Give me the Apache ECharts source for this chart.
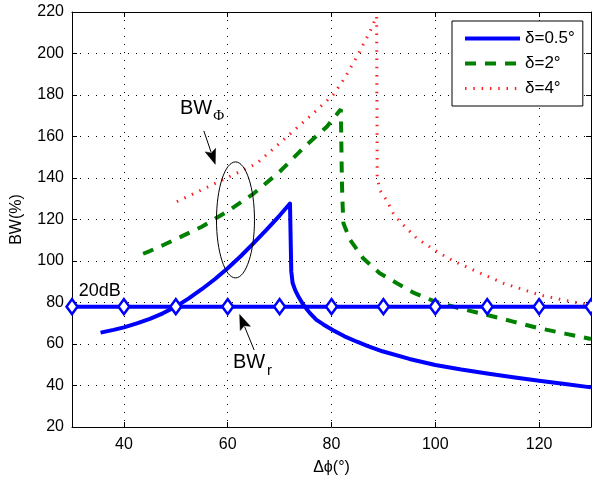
<!DOCTYPE html>
<html><head><meta charset="utf-8">
<script src="https://cdn.jsdelivr.net/npm/echarts@6/dist/echarts.min.js"></script>
<style>html,body{margin:0;padding:0;background:#fff}#c{width:592px;height:478px}</style>
</head><body><div id="c"></div>
<script>
// ---- data ----
const seriesNames = ['δ=0.5°', 'δ=2°', 'δ=4°'];
const blueX = [35.5, 38, 40, 42.5, 45, 47.5, 50, 52.5, 55, 57.5, 60, 62.5, 65, 67.5, 70, 72,
  72.25, 72.5, 73, 73.7, 74.6, 75.8, 77.1, 78.5, 80.3, 82.5, 84.9, 87, 89.8, 95, 100, 105, 110, 115, 120, 125, 130];
const blueY = [65.5, 66.8, 68, 69.9, 72.1, 74.8, 78, 82, 86.4, 91.2, 96.5, 102.3, 108.6, 115.1, 121.9, 127.7,
  95, 89.5, 86, 82.5, 78.8, 75, 71.6, 69.3, 66.6, 63.7, 61.1, 59, 56.5, 52.8, 49.9, 47.7, 45.8, 44, 42.3, 40.7, 39.1];
const greenX = [43.7, 45, 47.6, 50, 55, 60, 65, 70, 72.6, 75, 79.1, 81.8,
  82.0, 82.1, 82.3, 83.6, 86.1, 89.3, 92.6, 96, 100, 105, 110, 115, 120, 125, 130];
const greenY = [103.5, 104.8, 107.7, 110.5, 116.5, 124, 132.5, 143, 149.5, 155.5, 164.7, 173.1,
  139, 129.4, 118.2, 110.1, 101.3, 94.1, 89.3, 84.5, 80.4, 77, 74, 70.8, 67.6, 65, 62.4];
const redX = [50.2, 55, 60, 65.6, 70.7, 76.5, 80.3, 82.5, 84.9, 87.4, 88.7,
  88.8, 89.3, 90.6, 91.9, 93.2, 96.4, 100.3, 103.5, 107.3, 113.1, 120.2, 125, 130];
const redY = [128.6, 134.3, 140.3, 147, 158.3, 171.2, 180, 188, 198.5, 210.5, 218,
  140.6, 134.2, 129.4, 123, 118.9, 111, 104.5, 100, 95.7, 89.3, 83.6, 81, 78.8];
const refX = [30, 40, 50, 60, 70, 80, 90, 100, 110, 120, 130];
const refY = [78, 78, 78, 78, 78, 78, 78, 78, 78, 78, 78];
const xTicks = [40, 60, 80, 100, 120];
const yTicks = [20, 40, 60, 80, 100, 120, 140, 160, 180, 200, 220];
const xRange = [30, 130];
const xTitle = 'Δϕ(°)';
const yTitle = 'BW(%)';

// ---- chart ----
const zip = (xs, ys) => xs.map((x, i) => [x, ys[i]]);
const FONT = '"Liberation Sans", Arial, Helvetica, sans-serif';
const chart = echarts.init(document.getElementById('c'), null, {renderer: 'canvas'});

const gridLine = {show: true, lineStyle: {color: '#000', width: 1, type: [1, 7]}};
const baseAxis = {
  axisLine: {show: true, onZero: false, lineStyle: {color: '#000', width: 1}},
  axisTick: {show: true, inside: true, length: 5, lineStyle: {color: '#000'}},
};
const option = {
  animation: false,
  backgroundColor: '#fff',
  grid: {left: 72, top: 12, width: 519, height: 415, containLabel: false, outerBoundsMode: 'none'},
  xAxis: [
    Object.assign({}, baseAxis, {
      type: 'value', position: 'bottom', min: xRange[0], max: xRange[1],
      name: xTitle, nameLocation: 'middle', nameGap: 33,
      nameTextStyle: {fontFamily: FONT, fontSize: 16, color: '#000'},
      axisTick: {show: true, inside: true, length: 5, lineStyle: {color: '#000'}, customValues: xTicks},
      axisLabel: {fontFamily: FONT, fontSize: 16, color: '#000', margin: 10, customValues: xTicks},
      splitLine: gridLine
    }),
    Object.assign({}, baseAxis, {
      type: 'value', position: 'top', min: xRange[0], max: xRange[1],
      axisTick: {show: true, inside: true, length: 5, lineStyle: {color: '#000'}, customValues: xTicks},
      axisLabel: {show: false}, splitLine: {show: false}
    })
  ],
  yAxis: [
    Object.assign({}, baseAxis, {
      type: 'value', position: 'left', min: yTicks[0], max: yTicks[yTicks.length - 1], interval: yTicks[1] - yTicks[0],
      name: yTitle, nameLocation: 'middle', nameGap: 47,
      nameTextStyle: {fontFamily: FONT, fontSize: 16, color: '#000'},
      axisLabel: {fontFamily: FONT, fontSize: 16, color: '#000', margin: 8},
      splitLine: gridLine
    }),
    Object.assign({}, baseAxis, {
      type: 'value', position: 'right', min: yTicks[0], max: yTicks[yTicks.length - 1], interval: yTicks[1] - yTicks[0],
      axisLabel: {show: false}, splitLine: {show: false}
    })
  ],
  legend: {
    orient: 'vertical', left: 452, top: 21,
    padding: [9, 8, 9, 11], itemGap: 8, itemWidth: 55, itemHeight: 14,
    backgroundColor: '#fff', borderColor: '#000', borderWidth: 1, borderRadius: 0,
    textStyle: {fontFamily: FONT, fontSize: 17, color: '#000'},
    itemStyle: {opacity: 0},
    data: [
      {name: seriesNames[0], lineStyle: {width: 4, opacity: 1}, itemStyle: {opacity: 0}},
      {name: seriesNames[1], lineStyle: {width: 4, opacity: 1}, itemStyle: {opacity: 0}},
      {name: seriesNames[2], lineStyle: {width: 3, opacity: 1}, itemStyle: {opacity: 0}}
    ]
  },
  series: [
    {name: seriesNames[0], type: 'line', data: zip(blueX, blueY), showSymbol: false, symbol: 'none',
     color: '#0000ff', lineStyle: {color: '#0000ff', width: 4, join: 'round'}, z: 3},
    {name: seriesNames[1], type: 'line', data: zip(greenX, greenY), showSymbol: false, symbol: 'none',
     color: '#008000', lineStyle: {color: '#008000', width: 4, type: [11, 9], cap: 'butt'}, z: 3},
    {name: seriesNames[2], type: 'line', data: zip(redX, redY), showSymbol: false, symbol: 'none',
     color: '#ff2020', lineStyle: {color: '#ff2020', width: 3, type: [1.5, 6.8], cap: 'butt'}, z: 3},
    {name: '20dB', type: 'line', data: zip(refX, refY), symbol: 'diamond', symbolSize: [11, 15], showSymbol: true,
     clip: false, color: '#0000ff',
     lineStyle: {color: '#0000ff', width: 4},
     itemStyle: {color: '#fff', borderColor: '#0000ff', borderWidth: 2.5}, z: 4}
  ]
};
chart.setOption(option);

// ---- annotations anchored in data coordinates ----
const px = (x, y) => chart.convertToPixel({xAxisIndex: 0, yAxisIndex: 0}, [x, y]);
function arrow(tail, tip) {
  const a = px(tail[0], tail[1]), b = px(tip[0], tip[1]);
  const dx = b[0] - a[0], dy = b[1] - a[1], L = Math.hypot(dx, dy);
  const ux = dx / L, uy = dy / L, hl = 15, hw = 5.5;
  const bx = b[0] - ux * hl, by = b[1] - uy * hl;
  return [
    {type: 'line', shape: {x1: a[0], y1: a[1], x2: bx + ux * 2, y2: by + uy * 2}, style: {stroke: '#000', lineWidth: 1}, z: 10},
    {type: 'polygon', shape: {points: [[b[0], b[1]], [bx - uy * hw, by + ux * hw], [bx + ux * 3, by + uy * 3], [bx + uy * hw, by - ux * hw]]},
     style: {fill: '#000', stroke: '#000', lineWidth: 0.5}, z: 10}
  ];
}
const e0 = px(61.5, 119.8), eX = px(61.5 + 3.66, 119.8), eY = px(61.5, 119.8 + 27.95);
const t1 = px(50.8, 173.5), t2 = px(31.3, 85.5), t3 = px(61.0, 51.0);
const graphics = [
  {type: 'ellipse', shape: {cx: e0[0], cy: e0[1], rx: eX[0] - e0[0], ry: e0[1] - eY[1]},
   style: {fill: 'none', stroke: '#000', lineWidth: 1}, z: 10},
  {type: 'text', x: t1[0], y: t1[1], z: 10,
   style: {text: 'BW{s|Φ}', font: '20px ' + FONT, fill: '#000', verticalAlign: 'middle', align: 'left',
     rich: {s: {fontFamily: '"Liberation Serif", serif', fontSize: 15, padding: [16, 0, 0, 1]}}}},
  {type: 'text', x: t2[0], y: t2[1], z: 10,
   style: {text: '20dB', font: '18px ' + FONT, fill: '#000', verticalAlign: 'middle', align: 'left'}},
  {type: 'text', x: t3[0], y: t3[1], z: 10,
   style: {text: 'BW{s|r}', font: '20px ' + FONT, fill: '#000', verticalAlign: 'middle', align: 'left',
     rich: {s: {fontFamily: FONT, fontSize: 15, padding: [16, 0, 0, 2]}}}}
].concat(arrow([55.4, 162.7], [57.6, 146.6]), arrow([65.1, 57.1], [62.3, 74.2]));
chart.setOption({graphic: graphics});
</script>
</body></html>
